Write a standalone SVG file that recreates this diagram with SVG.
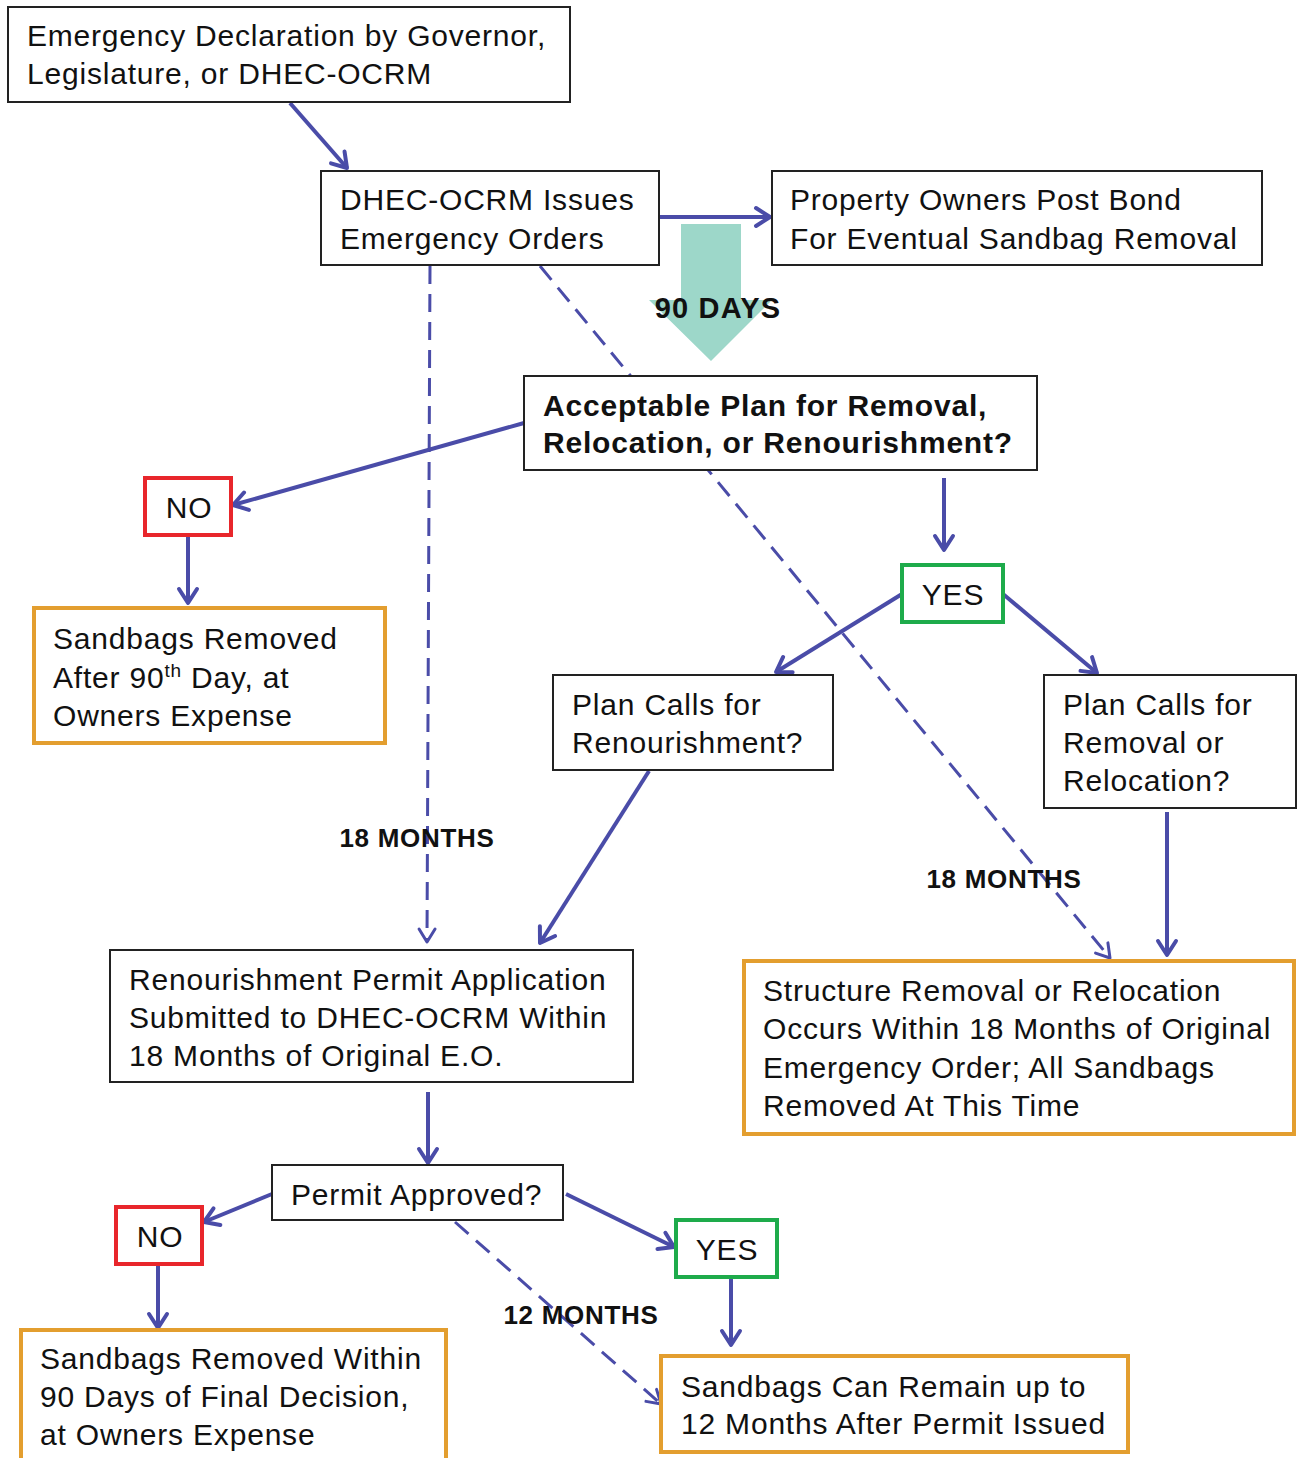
<svg xmlns="http://www.w3.org/2000/svg" width="1298" height="1458" viewBox="0 0 1298 1458">
<defs>
<style>
.box{fill:#fff;stroke:#222;stroke-width:2}
.org{fill:#fff;stroke:#e39e2f;stroke-width:4}
.red{fill:#fff;stroke:#e8262b;stroke-width:4}
.grn{fill:#fff;stroke:#1eab4b;stroke-width:4}
.t{font-family:"Liberation Sans",Arial,sans-serif;font-size:30px;fill:#111;letter-spacing:0.8px}
.b{font-family:"Liberation Sans",Arial,sans-serif;font-weight:bold;fill:#111}
.c{stroke:#4a4ca8;stroke-width:4;fill:none;marker-end:url(#ah)}
.d{stroke:#4a4ca8;stroke-width:3;fill:none;stroke-dasharray:18 10;marker-end:url(#ahd)}
</style>
<marker id="ah" markerUnits="userSpaceOnUse" markerWidth="24" markerHeight="24" refX="17" refY="12" orient="auto">
<path d="M3,3 L17,12 L3,21" fill="none" stroke="#4a4ca8" stroke-width="4" stroke-linecap="round" stroke-linejoin="round"/>
</marker>
<marker id="ahd" markerUnits="userSpaceOnUse" markerWidth="24" markerHeight="24" refX="17" refY="12" orient="auto">
<path d="M4,4 L17,12 L4,20" fill="none" stroke="#4a4ca8" stroke-width="3" stroke-linecap="round" stroke-linejoin="round"/>
</marker>
</defs>
<rect width="1298" height="1458" fill="#fff"/>
<g id="connectors">
<path class="d" d="M540,266 L1110,958"/>
<path class="d" d="M430,266 L427,942"/>
<path class="d" d="M455,1222 L661,1404"/>
<path class="c" d="M290,103 L347,168"/>
<path class="c" d="M659,217 L770,217"/>
<path class="c" d="M524,423 L233,505"/>
<path class="c" d="M188,537 L188,603"/>
<path class="c" d="M944,478 L944,550"/>
<path class="c" d="M902,594 L776,672"/>
<path class="c" d="M1003,594 L1097,673"/>
<path class="c" d="M649,771 L540,943"/>
<path class="c" d="M1167,812 L1167,955"/>
<path class="c" d="M428,1092 L428,1163"/>
<path class="c" d="M272,1194 L204,1222"/>
<path class="c" d="M566,1194 L674,1247"/>
<path class="c" d="M731,1277 L731,1345"/>
<path class="c" d="M158,1266 L158,1328"/>
</g>
<g id="days90">
<path d="M681,224 L741,224 L741,300 L772,300 L711,361 L649,300 L681,300 Z" fill="#9dd7c9"/>
<text class="b" x="718" y="318" font-size="29" letter-spacing="1.2" text-anchor="middle">90 DAYS</text>
</g>
<g id="n1"><rect class="box" x="8" y="7" width="562" height="95"/>
<text class="t" x="27" y="46">Emergency Declaration by Governor,</text>
<text class="t" x="27" y="84">Legislature, or DHEC-OCRM</text></g>
<g id="n2"><rect class="box" x="321" y="171" width="338" height="94"/>
<text class="t" x="340" y="210">DHEC-OCRM Issues</text>
<text class="t" x="340" y="249">Emergency Orders</text></g>
<g id="n3"><rect class="box" x="772" y="171" width="490" height="94"/>
<text class="t" x="790" y="210">Property Owners Post Bond</text>
<text class="t" x="790" y="249">For Eventual Sandbag Removal</text></g>
<g id="n4"><rect class="box" x="524" y="376" width="513" height="94"/>
<text class="b" font-size="30" letter-spacing="0.8" x="543" y="416">Acceptable Plan for Removal,</text>
<text class="b" font-size="30" letter-spacing="0.8" x="543" y="453">Relocation, or Renourishment?</text></g>
<g id="n5"><rect class="red" x="145" y="478" width="86" height="57"/>
<text class="t" x="189" y="518" text-anchor="middle">NO</text></g>
<g id="n6"><rect class="org" x="34" y="608" width="351" height="135"/>
<text class="t" x="53" y="649">Sandbags Removed</text>
<text class="t" x="53" y="688">After 90<tspan font-size="19" dy="-11">th</tspan><tspan dy="11"> Day, at</tspan></text>
<text class="t" x="53" y="726">Owners Expense</text></g>
<g id="n7"><rect class="grn" x="902" y="565" width="101" height="57"/>
<text class="t" x="953" y="605" text-anchor="middle">YES</text></g>
<g id="n8"><rect class="box" x="553" y="675" width="280" height="95"/>
<text class="t" x="572" y="715">Plan Calls for</text>
<text class="t" x="572" y="753">Renourishment?</text></g>
<g id="n9"><rect class="box" x="1044" y="675" width="252" height="133"/>
<text class="t" x="1063" y="715">Plan Calls for</text>
<text class="t" x="1063" y="753">Removal or</text>
<text class="t" x="1063" y="791">Relocation?</text></g>
<g id="lbl18a"><text class="b" font-size="26" letter-spacing="0.7" x="417" y="847" text-anchor="middle">18 MONTHS</text></g>
<g id="lbl18b"><text class="b" font-size="26" letter-spacing="0.7" x="1004" y="888" text-anchor="middle">18 MONTHS</text></g>
<g id="n10"><rect class="box" x="110" y="950" width="523" height="132"/>
<text class="t" x="129" y="990">Renourishment Permit Application</text>
<text class="t" x="129" y="1028">Submitted to DHEC-OCRM Within</text>
<text class="t" x="129" y="1066">18 Months of Original E.O.</text></g>
<g id="n11"><rect class="org" x="744" y="961" width="550" height="173"/>
<text class="t" x="763" y="1001">Structure Removal or Relocation</text>
<text class="t" x="763" y="1039">Occurs Within 18 Months of Original</text>
<text class="t" x="763" y="1078">Emergency Order; All Sandbags</text>
<text class="t" x="763" y="1116">Removed At This Time</text></g>
<g id="n12"><rect class="box" x="272" y="1165" width="291" height="55"/>
<text class="t" x="291" y="1205">Permit Approved?</text></g>
<g id="n13"><rect class="red" x="116" y="1207" width="86" height="57"/>
<text class="t" x="160" y="1247" text-anchor="middle">NO</text></g>
<g id="n14"><rect class="grn" x="676" y="1220" width="101" height="57"/>
<text class="t" x="727" y="1260" text-anchor="middle">YES</text></g>
<g id="lbl12"><text class="b" font-size="26" letter-spacing="0.7" x="581" y="1324" text-anchor="middle">12 MONTHS</text></g>
<g id="n15"><rect class="org" x="21" y="1330" width="425" height="150"/>
<text class="t" x="40" y="1369">Sandbags Removed Within</text>
<text class="t" x="40" y="1407">90 Days of Final Decision,</text>
<text class="t" x="40" y="1445">at Owners Expense</text></g>
<g id="n16"><rect class="org" x="661" y="1356" width="467" height="96"/>
<text class="t" x="681" y="1397">Sandbags Can Remain up to</text>
<text class="t" x="681" y="1434">12 Months After Permit Issued</text></g>
</svg>
